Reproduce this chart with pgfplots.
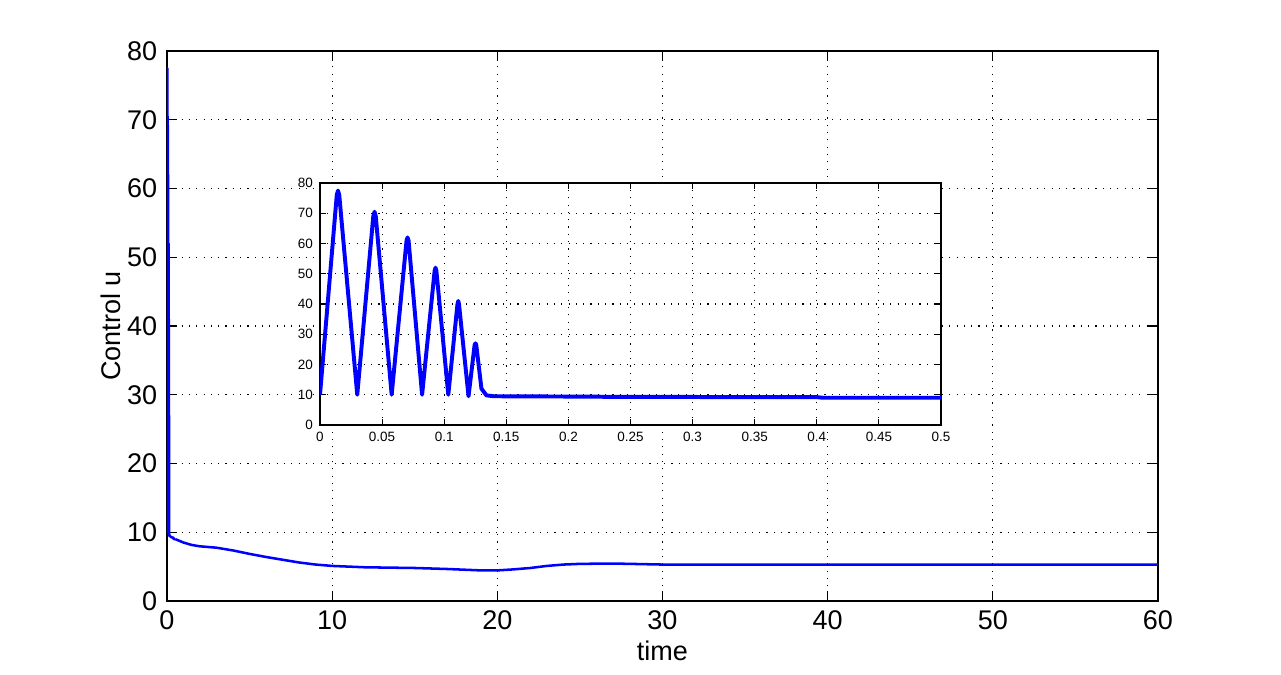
\documentclass[border=0pt]{standalone}
\usepackage{fontspec}
\setmainfont{Liberation Sans}
\usepackage{pgfplots}
\pgfplotsset{compat=1.18}
\usepackage{pgfplotstable}

% oscillation at start (shared by main plot and inset)
\pgfplotstableread{
x y
0 10
0.0135 76
0.0145 77.5
0.0155 76
0.030 10
0.0429 69
0.0439 70.5
0.0449 69
0.0577 10
0.0697 61
0.0705 62
0.0713 61
0.0822 10
0.0923 51
0.0930 52
0.0937 51
0.1033 10
0.1107 40
0.1113 41
0.1119 40
0.1196 9.5
0.1245 26.5
0.1252 27
0.1258 26.5
0.1300 12
0.1340 9.8
0.1400 9.5
0.2000 9.4
0.2200 9.4
0.2300 9.3
0.3000 9.3
0.3100 9.2
0.4000 9.2
0.4050 9.0
0.5000 9.0
}\osc

\pgfplotstableread{
x y
0.5 9.0
0.7 8.8
1 8.5
1.5 8.15
2 7.95
3 7.75
4 7.35
5 6.85
6 6.4
7 6.0
8 5.6
9 5.3
10 5.1
12 4.9
15 4.8
17 4.65
19 4.45
20 4.45
21 4.6
22 4.8
23 5.1
24 5.3
25 5.4
27 5.45
30 5.3
40 5.3
60 5.3
}\tail

\definecolor{mblue}{RGB}{0,0,255}

\begin{document}
\begin{tikzpicture}
\pgfplotsset{
  mstyle/.style={
    scale only axis,
    axis line style={line width=0.4pt},
    tick align=inside,
    grid=major,
    major grid style={black, line width=0.4pt, dash pattern=on 0.4pt off 2.2pt},
    tick style={black, line width=0.4pt},
    /pgf/number format/assume math mode=true,
  }
}
\begin{axis}[
  mstyle,
  name=main,
  width=12.3875cm, height=6.875cm,
  xmin=0, xmax=60, ymin=0, ymax=80,
  xtick={0,10,...,60}, ytick={0,10,...,80},
  major tick length=0.13cm,
  tick label style={font=\fontsize{9.6}{11}\selectfont},
  label style={font=\fontsize{9.6}{11}\selectfont},
  xlabel={time}, ylabel={Control u},
  xlabel style={yshift=3pt},
  ylabel style={yshift=-4.5pt},
]
\addplot[mblue, line width=0.9pt, line join=round] table[x=x,y=y] {\osc};
\addplot[mblue, line width=0.9pt, line join=round] table[x=x,y=y] {\tail};
\end{axis}

\begin{axis}[
  mstyle,
  at={(1.9125cm,2.2cm)}, anchor=south west,
  width=7.7625cm, height=3.025cm,
  axis background/.style={fill=white},
  xmin=0, xmax=0.5, ymin=0, ymax=80,
  xtick={0,0.05,...,0.5}, ytick={0,10,...,80},
  major tick length=0.08cm,
  tick label style={font=\fontsize{4.8}{5.5}\selectfont},
  xticklabel style={/pgf/number format/fixed, /pgf/number format/precision=2, yshift=1pt},
  yticklabel style={xshift=1pt},
]
\addplot[mblue, line width=1.4pt, line join=round] table[x=x,y=y] {\osc};
\end{axis}

\path (main.south west) ++(-2.0875cm,-0.925cm) rectangle ++(16.0125cm,8.4375cm);
\end{tikzpicture}
\end{document}
